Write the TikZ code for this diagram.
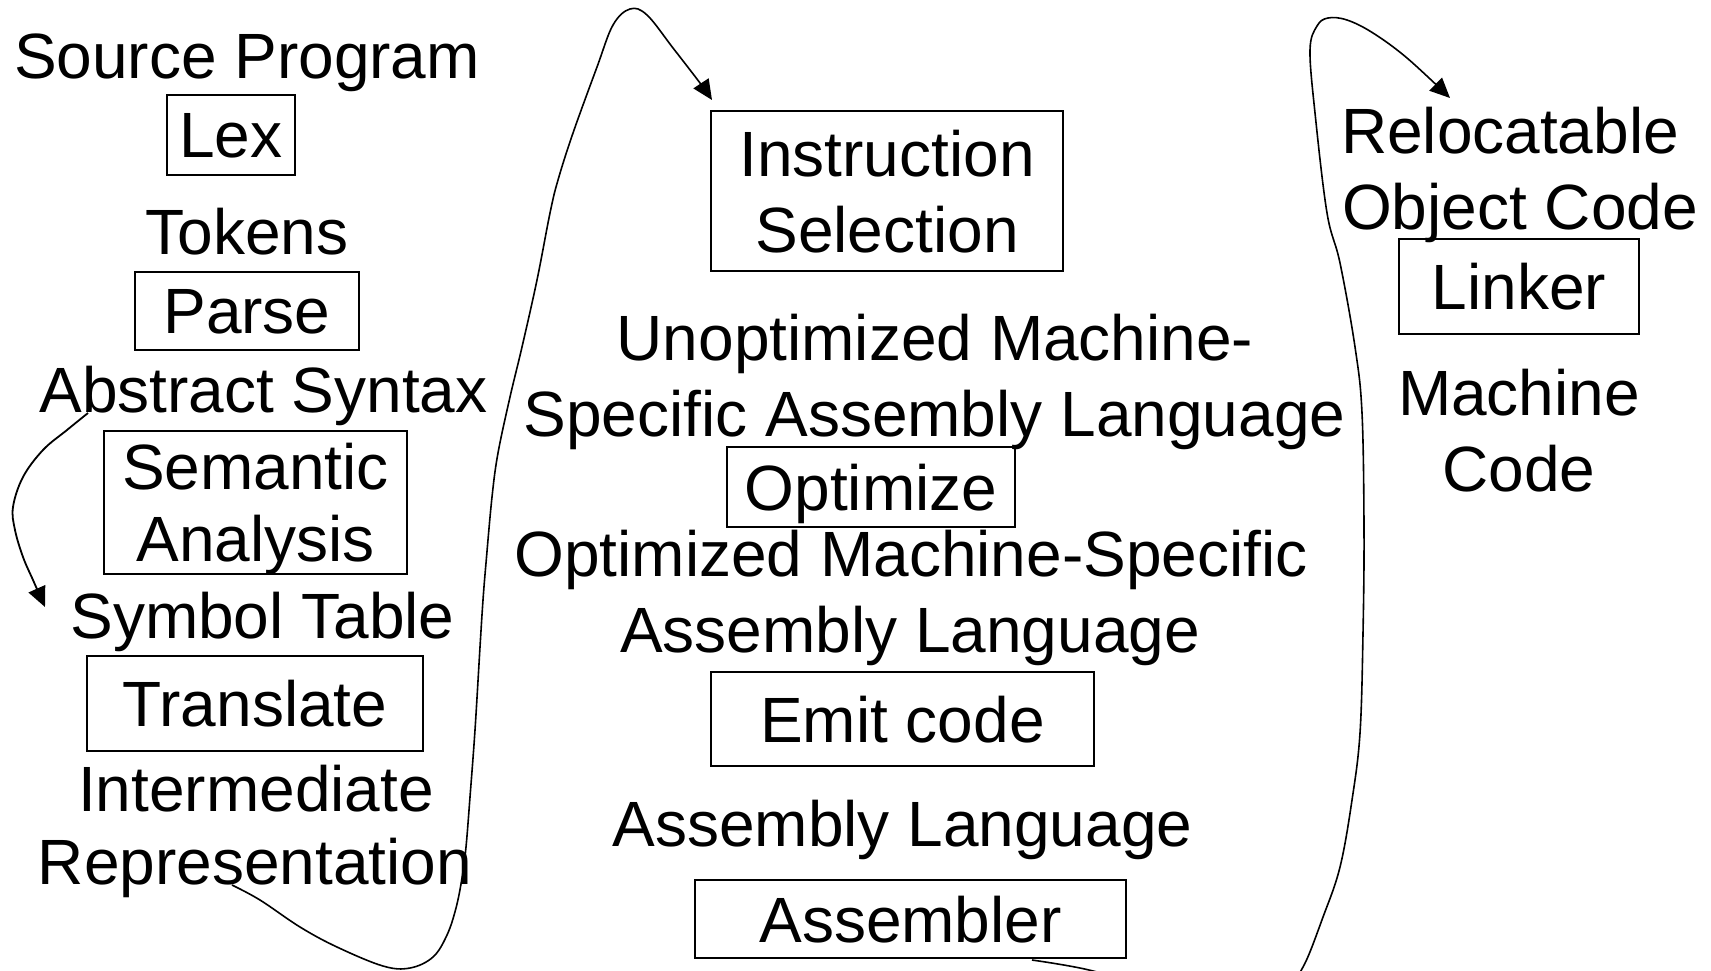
\documentclass[tikz,border=0pt]{standalone}
\usepackage{fontspec}
\setmainfont{Liberation Sans}
\usetikzlibrary{arrows.meta}
\begin{document}
\begin{tikzpicture}[x=0.5pt,y=-0.5pt,
  lbl/.style={anchor=base, inner sep=0pt, font=\fontsize{32}{38}\selectfont},
  box/.style={draw, line width=0.8pt, inner sep=0pt, align=center, text depth=0pt, font=\fontsize{32}{38}\selectfont},
  conn/.style={line width=0.9pt, -{Triangle[length=10pt,width=9pt]}}]
\useasboundingbox (0,0) rectangle (1711,970);
% left column
\node[lbl] (src) at (247,78) {Source Program};
\node[box, minimum width=64pt, minimum height=40pt] (lex) at (231,135) {Lex};
\node[lbl] (tok) at (247,254) {Tokens};
\node[box, minimum width=112pt, minimum height=39pt] (parse) at (247,311) {Parse};
\node[lbl] (abs) at (263.5,412) {Abstract Syntax};
\node[box, minimum width=151.5pt, minimum height=71.5pt] (sem) at (255.5,502.5) {Semantic\\[-2pt]Analysis};
\node[lbl] (sym) at (262.5,638) {Symbol Table};
\node[box, minimum width=168pt, minimum height=47.5pt] (trans) at (255,703.5) {Translate};
\node[lbl] (ir1) at (256,811) {Intermediate};
\node[lbl] (ir2) at (255,884) {Representation};
% middle column
\node[box, minimum width=176pt, minimum height=80pt] (isel) at (887,191) {Instruction\\Selection};
\node[lbl] (un1) at (935,360) {Unoptimized Machine-};
\node[lbl] (un2) at (934.5,436.5) {Specific Assembly Language};
\node[box, minimum width=144pt, minimum height=40pt] (opt) at (871,487) {Optimize};
\node[lbl] (op1) at (911,576) {Optimized Machine-Specific};
\node[lbl] (op2) at (910,652.5) {Assembly Language};
\node[box, minimum width=191.5pt, minimum height=47pt] (emit) at (902.5,719) {Emit code};
\node[lbl] (asm) at (902.5,846) {Assembly Language};
\node[box, minimum width=215.5pt, minimum height=39pt] (asmb) at (910.5,919) {Assembler};
% right column
\node[lbl] (rel1) at (1510,153) {Relocatable};
\node[lbl] (rel2) at (1520,229) {Object Code};
\node[box, minimum width=120pt, minimum height=47.5pt] (link) at (1519,286.5) {Linker};
\node[lbl] (mc1) at (1519,415) {Machine};
\node[lbl] (mc2) at (1519,491) {Code};
% connector end points
\coordinate (a1) at (88,413);
\coordinate (a2) at (45,607);
\coordinate (b1) at (232,885);
\coordinate (b2) at (712,100);
\coordinate (c1) at (1032,960);
\coordinate (c2) at (1450,98);
\begin{scope}
\clip (0,0) rectangle (1711,970);
\draw[conn] plot[smooth, tension=0.6] coordinates {(a1) (67,430) (43,450) (23,477) (13,507) (15,530) (23,557) (33,580) (a2)};
\draw[conn, line width=0.8pt] plot[smooth, tension=0.6] coordinates {(b1) (260,900) (300,927) (337,947) (383,966) (410,968) (433,957) (447,935) (456,908) (462,878) (466,847) (470,797) (475,730) (480,647) (483,600) (486,563) (492,497) (498,453) (510,397) (522,347) (537,280) (550,213) (558,180) (573,133) (597,67) (613,25) (630,9) (647,15) (673,48) (700,83) (b2)};
\draw[conn, line width=0.8pt] plot[smooth, tension=0.6] coordinates {(c1) (1080,968) (1150,984) (1230,992) (1285,985) (1303,967) (1323,917) (1340,867) (1352,800) (1360,733) (1363,633) (1364,530) (1362,413) (1355,347) (1340,263) (1327,213) (1315,113) (1310,50) (1317,26) (1328,18) (1347,20) (1373,33) (1407,58) (c2)};
\end{scope}
\end{tikzpicture}
\end{document}
